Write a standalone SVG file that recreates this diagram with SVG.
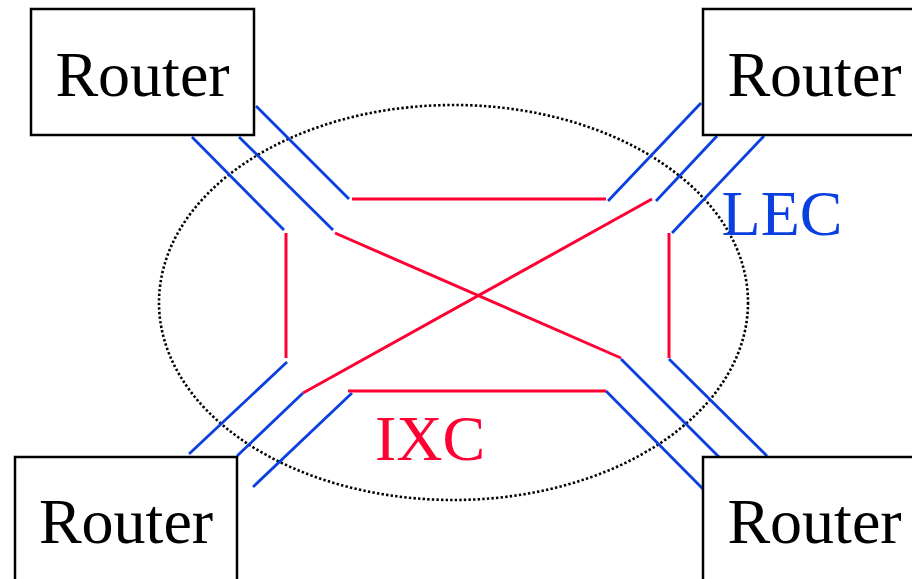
<svg xmlns="http://www.w3.org/2000/svg" width="912" height="579" viewBox="0 0 912 579">
<style>
.box{fill:#fff;stroke:#000;stroke-width:2.5}
.lbl{font-family:"Liberation Serif","Times New Roman",serif;font-size:64px;text-anchor:middle}
.blue{stroke:#0b40e0;stroke-width:2.8;fill:none}
.red{stroke:#ff0033;stroke-width:3;fill:none}
</style>
<rect width="912" height="579" fill="#fff"/>
<ellipse cx="453.5" cy="302.5" rx="294.5" ry="197.5" fill="none" stroke="#000" stroke-width="2.6" stroke-dasharray="2.4 2.2"/>
<g id="connectors">
<line class="blue" x1="192" y1="137" x2="284" y2="230"/>
<line class="blue" x1="239" y1="137" x2="333" y2="230"/>
<line class="blue" x1="256" y1="106" x2="349" y2="199"/>
<line class="blue" x1="701" y1="103" x2="608" y2="201"/>
<line class="blue" x1="717" y1="136" x2="656" y2="201"/>
<line class="blue" x1="764" y1="136" x2="672" y2="233"/>
<line class="blue" x1="189" y1="454" x2="287" y2="362"/>
<line class="blue" x1="237" y1="456" x2="303" y2="393"/>
<line class="blue" x1="253" y1="487" x2="352" y2="393"/>
<line class="blue" x1="621" y1="359" x2="719" y2="457"/>
<line class="blue" x1="669" y1="359" x2="767" y2="456"/>
<line class="blue" x1="606" y1="391" x2="703" y2="489"/>
<line class="red" x1="352" y1="199" x2="606" y2="199"/>
<line class="red" x1="286" y1="233" x2="286" y2="358"/>
<line class="red" x1="335" y1="233" x2="621" y2="358"/>
<line class="red" x1="652" y1="199" x2="303" y2="393"/>
<line class="red" x1="669" y1="233" x2="669" y2="358"/>
<line class="red" x1="348" y1="391" x2="606" y2="391"/>
</g>
<g id="router-tl"><rect class="box" x="31" y="9" width="223" height="126"/><text class="lbl" x="142.5" y="96">Router</text></g>
<g id="router-tr"><rect class="box" x="703" y="9" width="223" height="126"/><text class="lbl" x="814.5" y="96">Router</text></g>
<g id="router-bl"><rect class="box" x="15" y="457" width="222" height="126"/><text class="lbl" x="126" y="543">Router</text></g>
<g id="router-br"><rect class="box" x="703" y="457" width="223" height="126"/><text class="lbl" x="814.5" y="543">Router</text></g>
<g id="lec"><text class="lbl" x="782" y="235" fill="#0b40e0">LEC</text></g>
<g id="ixc"><text class="lbl" x="430" y="460" fill="#ff0033">IXC</text></g>
</svg>
